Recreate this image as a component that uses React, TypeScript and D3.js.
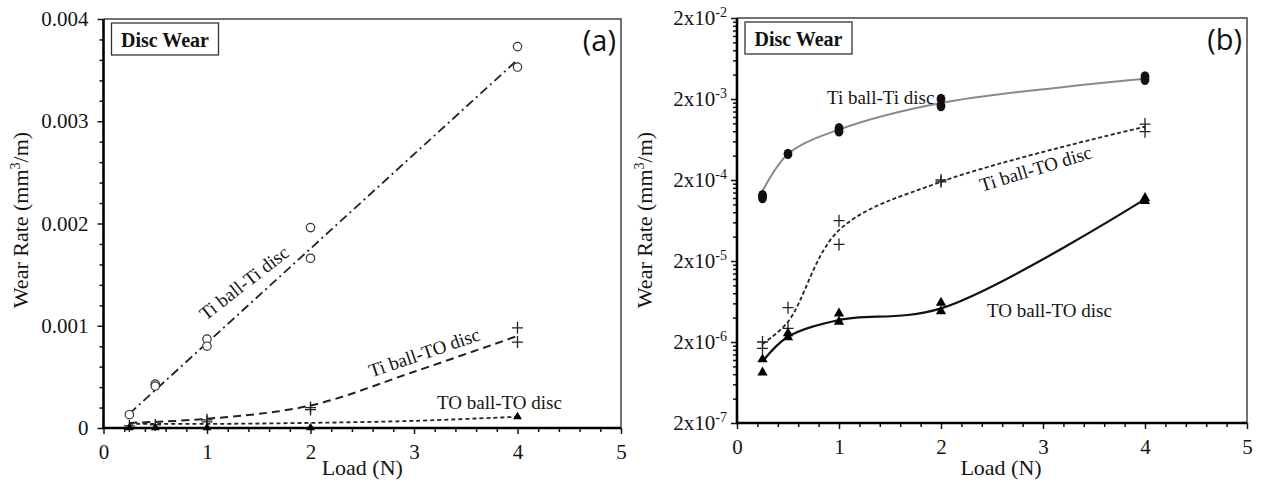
import { useEffect, useRef } from 'react';
import * as d3 from 'd3';

type Pt = [number, number];

// shared x axis (Load, N)
const loadTicks = [0, 1, 2, 3, 4, 5];
const loadMinor = [0.2, 0.4, 0.6, 0.8, 1.2, 1.4, 1.6, 1.8, 2.2, 2.4, 2.6, 2.8, 3.2, 3.4, 3.6, 3.8, 4.2, 4.4, 4.6, 4.8];

// panel (a) linear y axis
const linTicks = [0, 0.001, 0.002, 0.003, 0.004];
const linTickLabels = ['0', '0.001', '0.002', '0.003', '0.004'];
const linMinor = [0.0002, 0.0004, 0.0006, 0.0008, 0.0012, 0.0014, 0.0016, 0.0018, 0.0022, 0.0024, 0.0026, 0.0028, 0.0032, 0.0034, 0.0036, 0.0038];

// panel (b) log y axis
const logTicks = [2e-7, 2e-6, 2e-5, 2e-4, 2e-3, 2e-2];
const logTickExps = ['-7', '-6', '-5', '-4', '-3', '-2'];
const logMinorMult = [2, 3, 4, 5, 6, 7, 8, 9];

// panel (a) measurements
const aTiTi: Pt[] = [[0.25, 0.00013], [0.5, 0.00043], [0.5, 0.00041], [1, 0.00087], [1, 0.0008], [2, 0.00196], [2, 0.00166], [4, 0.00373], [4, 0.00353]];
const aTiTO: Pt[] = [[0.25, 0.00002], [0.5, 0.00003], [1, 0.00008], [1, 0.00006], [2, 0.0002], [2, 0.00018], [4, 0.00098], [4, 0.00084]];
const aTOTO: Pt[] = [[0.25, 0.000002], [0.5, 0.000002], [1, 0.000002], [2, 0.000002], [4, 0.00011]];
// panel (a) trend lines
const aTiTiFit: Pt[] = [[0.25, 0.00014], [4, 0.0036]];
const aTiTOFit: Pt[] = [[0.25, 0.00005], [1, 0.00009], [2, 0.00022], [3, 0.00055], [4, 0.0009]];
const aTOTOFit: Pt[] = [[0.25, 0.00004], [1, 0.00004], [2, 0.00005], [3, 0.00007], [4, 0.00011]];

// panel (b) measurements
const bTiTi: Pt[] = [[0.25, 1.3e-4], [0.25, 1.2e-4], [0.5, 4.2e-4], [1, 8.7e-4], [1, 8.0e-4], [2, 2.0e-3], [2, 1.64e-3], [4, 3.8e-3], [4, 3.45e-3]];
const bTiTO: Pt[] = [[0.25, 2.0e-6], [0.25, 1.67e-6], [0.5, 5.3e-6], [0.5, 2.95e-6], [1, 6.3e-5], [1, 3.2e-5], [2, 2.0e-4], [2, 1.9e-4], [4, 9.8e-4], [4, 7.9e-4]];
const bTOTO: Pt[] = [[0.25, 1.22e-6], [0.25, 8.4e-7], [0.5, 2.56e-6], [0.5, 2.28e-6], [1, 4.5e-6], [1, 3.56e-6], [2, 6.1e-6], [2, 4.8e-6], [4, 1.2e-4], [4, 1.1e-4]];
// panel (b) smoothed lines
const bTiTiFit: Pt[] = [[0.25, 1.46e-4], [0.5, 4.2e-4], [1, 8.4e-4], [2, 1.79e-3], [4, 3.55e-3]];
const bTiTOFit: Pt[] = [[0.25, 1.89e-6], [0.5, 3.56e-6], [1, 4.8e-5], [2, 1.9e-4], [4, 9.1e-4]];
const bTOTOFit: Pt[] = [[0.25, 1.15e-6], [0.5, 2.32e-6], [1, 3.74e-6], [2, 5.2e-6], [4, 1.16e-4]];

const serif = '"Liberation Serif", "Times New Roman", serif';
const ink = '#141414';

type Series = { pts: Pt[]; fit: Pt[]; marker: string; stroke: string; width: number; dash: string | null };
type Label = { text: string; at: Pt; angle: number; anchor: string };

function drawPanel(svg: any, p: any) {
  const { x, y } = p;
  const [x0, x1] = x.range();
  const [yb, yt] = y.range();
  const g = svg.append('g');

  // frame: thin top/right, heavy left/bottom
  g.append('path').attr('d', `M${x0},${yt}H${x1}V${yb}`).attr('fill', 'none').attr('stroke', '#444').attr('stroke-width', 1.5);

  // ticks
  const styleAxis = (a: any) => {
    a.attr('font-family', serif);
    a.select('.domain').remove();
    a.selectAll('line').attr('stroke', ink).attr('stroke-width', 1.5);
    a.selectAll('text').attr('fill', ink).style('font-family', serif).style('font-size', '21px');
  };
  g.append('g').attr('transform', `translate(0,${yb})`)
    .call(d3.axisBottom(x).tickValues(loadMinor).tickSize(4).tickFormat(() => '')).call(styleAxis);
  g.append('g').attr('transform', `translate(0,${yb})`)
    .call(d3.axisBottom(x).tickValues(loadTicks).tickSize(6).tickPadding(10).tickFormat((d: any) => String(d))).call(styleAxis);
  g.append('g').attr('transform', `translate(${x0},0)`)
    .call(d3.axisLeft(y).tickValues(p.yMinor).tickSize(4).tickFormat(() => '')).call(styleAxis);
  const ya = g.append('g').attr('transform', `translate(${x0},0)`)
    .call(d3.axisLeft(y).tickValues(p.yTicks).tickSize(6).tickPadding(p.yPad).tickFormat(() => '')).call(styleAxis);
  ya.selectAll('.tick text').each(function (this: any, _d: any, i: number) {
    p.yLabel(d3.select(this), i);
  });

  g.append('line').attr('x1', x0).attr('x2', x0).attr('y1', yt).attr('y2', yb + 1).attr('stroke', '#000').attr('stroke-width', 2.6);
  g.append('line').attr('x1', x0 - 1).attr('x2', x1).attr('y1', yb).attr('y2', yb).attr('stroke', '#000').attr('stroke-width', 2.6);

  // series
  const line = d3.line<Pt>().x((d) => x(d[0])).y((d) => y(d[1])).curve(d3.curveCatmullRom.alpha(0.5));
  p.series.forEach((s: Series) => {
    g.append('path').datum(s.fit).attr('d', line).attr('fill', 'none')
      .attr('stroke', s.stroke).attr('stroke-width', s.width)
      .attr('stroke-dasharray', s.dash);
  });
  p.series.forEach((s: Series) => {
    const m = g.append('g');
    s.pts.forEach((d) => {
      const cx = x(d[0]);
      const cy = y(d[1]);
      if (s.marker === 'circle') {
        m.append('circle').attr('cx', cx).attr('cy', cy).attr('r', 4.2).attr('fill', '#fff').attr('stroke', '#333').attr('stroke-width', 1.2);
      } else if (s.marker === 'dot') {
        m.append('ellipse').attr('cx', cx).attr('cy', cy).attr('rx', 4.4).attr('ry', 5.2).attr('fill', '#111');
      } else if (s.marker === 'plus') {
        m.append('path').attr('d', `M${cx - 5.5},${cy}H${cx + 5.5}M${cx},${cy - 6}V${cy + 6}`).attr('stroke', '#222').attr('stroke-width', 1.3);
      } else {
        m.append('path').attr('d', d3.symbol(d3.symbolTriangle, p.triSize)()).attr('transform', `translate(${cx},${cy})`).attr('fill', '#000');
      }
    });
  });

  // series labels
  p.labels.forEach((l: Label) => {
    const lx = x(l.at[0]);
    const ly = y(l.at[1]);
    g.append('text').attr('x', lx).attr('y', ly).attr('text-anchor', l.anchor)
      .attr('transform', `rotate(${l.angle},${lx},${ly})`)
      .attr('fill', ink).style('font-family', serif).style('font-size', '19px').text(l.text);
  });

  // "Disc Wear" box
  g.append('rect').attr('x', x0 + 8).attr('y', yt + 4).attr('width', 107).attr('height', 32)
    .attr('fill', '#fff').attr('stroke', '#333').attr('stroke-width', 1.3);
  g.append('text').attr('x', x0 + 61.5).attr('y', yt + 28).attr('text-anchor', 'middle')
    .attr('fill', '#111').style('font-family', serif).style('font-size', '20px').style('font-weight', 'bold').text('Disc Wear');

  // panel tag
  g.append('text').attr('x', x1 - 5).attr('y', yt + 32).attr('text-anchor', 'end')
    .attr('fill', '#111').style('font-family', '"Open Sans", sans-serif').style('font-size', '29px').text(p.tag);

  // axis titles
  g.append('text').attr('x', (x0 + x1) / 2 + p.xTitleShift).attr('y', 475).attr('text-anchor', 'middle')
    .attr('fill', ink).style('font-family', serif).style('font-size', '22px').text('Load (N)');
  const yt2 = g.append('text').attr('transform', `translate(${p.yTitleX},220) rotate(-90)`).attr('text-anchor', 'middle')
    .attr('fill', ink).style('font-family', serif).style('font-size', '22px');
  yt2.append('tspan').text('Wear Rate (mm');
  yt2.append('tspan').attr('dy', -8).style('font-size', '14px').text('3');
  yt2.append('tspan').attr('dy', 8).text('/m)');
}

const panelA = {
  x: d3.scaleLinear().domain([0, 5]).range([103.5, 621]),
  y: d3.scaleLinear().domain([0, 0.004]).range([428, 19]),
  yTicks: linTicks,
  yMinor: linMinor,
  yPad: 9,
  yLabel: (t: any, i: number) => t.text(linTickLabels[i]),
  triSize: 34,
  tag: '(a)',
  xTitleShift: 0,
  yTitleX: 28,
  series: [
    { pts: aTiTi, fit: aTiTiFit, marker: 'circle', stroke: '#222', width: 1.8, dash: '9,4,2,4' },
    { pts: aTiTO, fit: aTiTOFit, marker: 'plus', stroke: '#222', width: 2, dash: '8,5' },
    { pts: aTOTO, fit: aTOTOFit, marker: 'tri', stroke: '#222', width: 1.8, dash: '4,3' },
  ],
  labels: [
    { text: 'Ti ball-Ti disc', at: [1.396, 0.001369], angle: -38, anchor: 'middle' },
    { text: 'Ti ball-TO disc', at: [3.12, 0.000678], angle: -19, anchor: 'middle' },
    { text: 'TO ball-TO disc', at: [3.222, 0.000181], angle: 0, anchor: 'start' },
  ],
};

const panelB = {
  x: d3.scaleLinear().domain([0, 5]).range([737, 1247]),
  y: d3.scaleLog().domain([2e-7, 2e-2]).range([423, 18]),
  yTicks: logTicks,
  yMinor: logTicks.slice(0, -1).flatMap((t) => logMinorMult.map((k) => t * k)),
  yPad: 4,
  yLabel: (t: any, i: number) => {
    t.text('2x10');
    t.append('tspan').attr('dy', -8).style('font-size', '14px').text(logTickExps[i]);
  },
  triSize: 46,
  tag: '(b)',
  xTitleShift: 9,
  yTitleX: 652,
  series: [
    { pts: bTiTi, fit: bTiTiFit, marker: 'dot', stroke: '#8a8a8a', width: 2, dash: null },
    { pts: bTiTO, fit: bTiTOFit, marker: 'plus', stroke: '#222', width: 1.8, dash: '4,2.5' },
    { pts: bTOTO, fit: bTOTOFit, marker: 'tri', stroke: '#111', width: 2.2, dash: null },
  ],
  labels: [
    { text: 'Ti ball-Ti disc', at: [0.882, 1.73e-3], angle: 0, anchor: 'start' },
    { text: 'Ti ball-TO disc', at: [2.947, 2.32e-4], angle: -17, anchor: 'middle' },
    { text: 'TO ball-TO disc', at: [2.451, 4.07e-6], angle: 0, anchor: 'start' },
  ],
};

export default function App() {
  const ref = useRef<SVGSVGElement>(null);

  useEffect(() => {
    const svg = d3.select(ref.current);
    svg.selectAll('*').remove();
    drawPanel(svg, panelA);
    drawPanel(svg, panelB);
  }, []);

  return (
    <svg
      ref={ref}
      width={1261}
      height={486}
      style={{ position: 'absolute', left: 0, top: 0, background: '#fff' }}
    ></svg>
  );
}
